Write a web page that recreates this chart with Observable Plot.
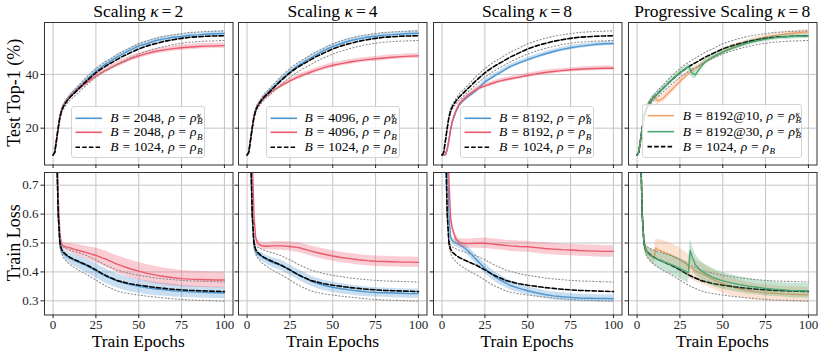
<!DOCTYPE html>
<html><head><meta charset="utf-8">
<script src="https://cdn.jsdelivr.net/npm/d3@7"></script>
<script src="https://cdn.jsdelivr.net/npm/@observablehq/plot@0.6"></script>
<style>
body{margin:0;background:#fff}
#chart{position:relative;width:822px;height:354px;overflow:hidden;font-family:"Liberation Serif","Times New Roman",serif;color:#000;background:#fff}
.legend{position:absolute;box-sizing:border-box;border:1px solid #d4d4d4;border-radius:3px;background:rgba(255,255,255,0.8);font-size:13.5px;padding-top:3.5px}
.legend .row{position:relative;white-space:nowrap}
.legend .row svg{position:absolute;top:0}
.legend .txt{position:absolute;top:0;word-spacing:0.5px}
.ss{display:inline-block;white-space:pre;font-size:8.9px;line-height:6px;font-style:italic;vertical-align:-2.6px;margin-left:0.5px}
.sb{font-size:0.66em;vertical-align:-0.35em;line-height:0;margin-left:0.5px}
</style></head>
<body><div id="chart"></div>
<script>
// ---------------- data ----------------
const epochs = [0,1,2,3,4,5,6,8,10,11,12,15,20,25,29,30,31,32,34,37,40,45,50,55,60,65,70,75,80,85,90,95,100];

// Test Top-1 (%) — baseline B=1024
const acc1024   = [10.0,11.0,15.5,20.0,24.0,26.5,28.0,30.0,31.6,32.2,32.8,34.7,37.8,40.6,42.4,42.8,43.2,43.6,44.3,45.4,46.5,48.0,49.5,50.6,51.5,52.3,52.9,53.4,53.8,54.0,54.2,54.3,54.4];
const acc1024Sd = [0,0.2,0.4,0.6,0.7,0.8,0.9,1.0,1.1,1.1,1.2,1.3,1.5,1.6,1.7,1.7,1.7,1.7,1.7,1.8,1.8,1.8,1.9,1.9,1.9,1.9,1.8,1.8,1.8,1.8,1.8,1.8,1.8];
// kappa = 2
const acc2048k   = [10.0,11.0,15.6,20.3,24.3,26.8,28.3,30.3,31.9,32.6,33.3,35.1,38.3,41.2,43.1,43.6,44.0,44.3,45.1,46.3,47.4,49.0,50.6,51.5,52.6,53.2,53.8,54.1,54.6,54.7,55.0,55.1,55.2];
const acc2048kSd = [0,0.2,0.3,0.4,0.5,0.5,0.6,0.6,0.7,0.7,0.7,0.8,0.8,0.9,0.9,0.9,0.9,0.9,1.0,1.0,1.0,1.0,1.0,1.0,1.0,1.0,0.9,0.9,0.9,0.9,0.9,0.9,0.9];
const acc2048    = [10.0,11.0,15.6,20.3,24.3,26.8,28.3,30.2,31.7,32.3,32.9,34.6,37.1,39.4,40.9,41.3,41.6,41.9,42.6,43.5,44.4,45.8,46.9,47.8,48.6,49.1,49.6,49.9,50.2,50.4,50.5,50.6,50.7];
const acc2048Sd  = [0,0.2,0.3,0.4,0.5,0.5,0.6,0.6,0.7,0.7,0.7,0.8,0.9,0.9,1.0,1.0,1.0,1.0,1.0,1.0,1.0,1.0,1.0,1.0,1.0,1.0,1.0,1.0,1.0,1.0,1.0,1.0,1.0];
// kappa = 4
const acc4096k   = [10.0,11.0,15.5,20.2,24.2,26.7,28.2,30.2,31.8,32.5,33.1,35.0,38.2,41.0,42.9,43.4,43.8,44.1,44.9,46.1,47.2,48.9,50.4,51.5,52.5,53.2,53.8,54.2,54.6,54.8,55.0,55.2,55.3];
const acc4096kSd = [0,0.2,0.3,0.4,0.5,0.5,0.6,0.6,0.7,0.7,0.7,0.8,0.8,0.8,0.9,0.9,0.9,0.9,0.9,0.9,0.9,0.9,0.9,0.9,0.9,0.9,0.9,0.9,0.9,0.9,0.9,0.9,0.9];
const acc4096    = [10.0,11.0,15.5,20.2,24.2,26.7,28.1,29.8,31.1,31.7,32.3,33.9,35.8,37.6,38.8,39.1,39.3,39.6,40.1,40.8,41.5,42.5,43.4,44.0,44.6,45.1,45.5,45.8,46.1,46.4,46.6,46.8,46.9];
const acc4096Sd  = [0,0.2,0.3,0.4,0.5,0.5,0.6,0.6,0.7,0.7,0.7,0.8,0.8,0.8,0.9,0.9,0.9,0.9,0.9,0.9,0.9,0.9,0.9,0.9,0.9,0.9,0.9,0.9,0.9,0.9,0.9,0.9,0.9];
// kappa = 8
const acc8192k   = [10.0,10.0,10.2,12.0,15.5,19.5,22.5,26.0,28.5,29.3,30.0,31.6,34.0,37.2,38.8,39.2,39.6,40.0,40.7,41.9,43.0,44.3,45.5,46.6,47.6,48.5,49.3,49.9,50.4,50.8,51.2,51.4,51.5];
const acc8192kSd = [0,0,0.2,0.4,0.5,0.6,0.6,0.7,0.7,0.7,0.7,0.7,0.8,0.8,0.8,0.8,0.8,0.8,0.8,0.8,0.8,0.8,0.8,0.8,0.8,0.8,0.8,0.8,0.8,0.8,0.8,0.8,0.8];
const acc8192    = [10.0,10.0,10.2,12.0,15.5,19.5,22.5,26.2,28.9,29.7,30.4,32.1,34.4,35.7,36.6,36.8,37.0,37.2,37.6,38.0,38.4,39.0,39.6,40.2,40.7,41.1,41.4,41.7,41.9,42.1,42.2,42.3,42.3];
const acc8192Sd  = [0,0,0.2,0.4,0.5,0.6,0.6,0.7,0.7,0.7,0.7,0.7,0.8,0.8,0.8,0.8,0.8,0.8,0.8,0.8,0.8,0.8,0.8,0.8,0.8,0.8,0.8,0.8,0.8,0.8,0.8,0.8,0.8];
// progressive kappa = 8
const acc8192at10   = [10.0,11.0,15.5,20.0,24.0,26.5,28.0,30.0,31.6,30.6,30.2,31.0,34.2,37.4,39.8,40.4,40.9,41.4,42.2,43.4,44.7,46.6,48.4,49.9,51.1,52.1,53.0,53.8,54.4,54.9,55.3,55.6,55.8];
const acc8192at10Sd = [0,0.2,0.4,0.6,0.7,0.8,0.9,1.0,1.1,1.3,1.5,1.5,1.4,1.2,1.1,1.0,1.0,1.0,1.0,0.9,0.9,0.9,0.9,0.9,0.9,0.9,0.9,0.9,0.9,0.9,0.9,0.9,0.9];
const acc8192at30   = [10.0,11.0,15.5,20.0,24.0,26.5,28.0,30.0,31.6,32.2,32.8,34.7,37.8,40.6,42.4,42.8,42.0,40.6,39.8,42.6,44.8,46.7,48.3,49.6,50.7,51.7,52.5,53.1,53.6,53.9,54.1,54.2,54.3];
const acc8192at30Sd = [0,0.2,0.4,0.6,0.7,0.8,0.9,1.0,1.0,1.0,1.0,1.0,1.0,1.0,1.0,1.0,1.5,1.8,1.5,1.2,1.0,0.9,0.9,0.9,0.9,0.9,0.9,0.9,0.9,0.9,0.9,0.9,0.9];

// Train Loss — baseline B=1024
const loss1024   = [1.6,1.2,0.85,0.6,0.5,0.478,0.468,0.458,0.450,0.447,0.444,0.436,0.423,0.407,0.393,0.390,0.387,0.384,0.379,0.371,0.366,0.359,0.354,0.350,0.346,0.343,0.340,0.338,0.336,0.335,0.334,0.333,0.332];
const loss1024Sd = [0,0,0.01,0.01,0.012,0.015,0.018,0.022,0.025,0.026,0.027,0.03,0.033,0.035,0.036,0.036,0.036,0.036,0.036,0.036,0.036,0.035,0.034,0.034,0.033,0.033,0.033,0.033,0.033,0.033,0.033,0.033,0.033];
const loss2048k   = [1.6,1.2,0.84,0.6,0.49,0.472,0.463,0.454,0.447,0.444,0.441,0.433,0.420,0.404,0.391,0.388,0.385,0.382,0.377,0.370,0.364,0.356,0.350,0.345,0.341,0.338,0.335,0.333,0.331,0.330,0.329,0.328,0.327];
const loss2048kSd = [0,0,0.008,0.01,0.01,0.012,0.014,0.016,0.018,0.019,0.02,0.022,0.024,0.025,0.025,0.025,0.025,0.025,0.025,0.025,0.025,0.025,0.024,0.024,0.023,0.022,0.022,0.021,0.02,0.02,0.02,0.02,0.02];
const loss2048    = [1.6,1.25,0.9,0.66,0.53,0.495,0.49,0.486,0.483,0.481,0.479,0.474,0.466,0.457,0.448,0.446,0.444,0.441,0.436,0.428,0.421,0.411,0.403,0.395,0.389,0.384,0.380,0.377,0.375,0.374,0.373,0.372,0.372];
const loss2048Sd  = [0,0,0.008,0.01,0.01,0.01,0.012,0.014,0.016,0.017,0.018,0.02,0.022,0.025,0.027,0.027,0.028,0.028,0.028,0.029,0.03,0.03,0.03,0.03,0.03,0.029,0.029,0.028,0.028,0.028,0.028,0.028,0.028];
const loss4096k   = [1.6,1.2,0.84,0.6,0.49,0.470,0.462,0.455,0.447,0.444,0.440,0.432,0.422,0.406,0.394,0.390,0.387,0.384,0.378,0.369,0.362,0.353,0.347,0.342,0.338,0.334,0.331,0.329,0.328,0.327,0.326,0.325,0.325];
const loss4096kSd = [0,0,0.008,0.01,0.01,0.012,0.013,0.014,0.015,0.015,0.016,0.017,0.018,0.018,0.018,0.018,0.018,0.018,0.018,0.018,0.018,0.018,0.018,0.018,0.017,0.017,0.017,0.016,0.016,0.016,0.016,0.016,0.016];
const loss4096    = [1.8,1.5,1.0,0.8,0.6,0.52,0.50,0.492,0.489,0.489,0.489,0.490,0.490,0.488,0.485,0.484,0.483,0.481,0.478,0.473,0.468,0.461,0.455,0.450,0.446,0.442,0.439,0.437,0.436,0.435,0.434,0.434,0.433];
const loss4096Sd  = [0,0,0.008,0.01,0.01,0.01,0.011,0.012,0.013,0.013,0.013,0.014,0.015,0.016,0.017,0.017,0.017,0.017,0.017,0.017,0.018,0.018,0.018,0.018,0.018,0.018,0.018,0.018,0.018,0.018,0.018,0.018,0.018];
const loss8192k   = [2.4,2.0,1.4,0.8,0.6,0.52,0.508,0.500,0.495,0.492,0.488,0.474,0.443,0.412,0.392,0.387,0.383,0.379,0.372,0.362,0.353,0.343,0.335,0.328,0.322,0.317,0.314,0.312,0.310,0.309,0.308,0.308,0.307];
const loss8192kSd = [0,0,0.008,0.01,0.01,0.01,0.011,0.012,0.013,0.013,0.014,0.015,0.016,0.017,0.017,0.017,0.017,0.017,0.017,0.016,0.016,0.015,0.015,0.014,0.014,0.014,0.014,0.013,0.013,0.013,0.013,0.013,0.013];
const loss8192    = [2.4,2.0,1.5,0.95,0.72,0.589,0.55,0.515,0.502,0.500,0.499,0.498,0.499,0.499,0.497,0.496,0.496,0.495,0.494,0.492,0.490,0.488,0.487,0.484,0.481,0.479,0.477,0.476,0.474,0.473,0.472,0.471,0.471];
const loss8192Sd  = [0,0,0.008,0.01,0.01,0.01,0.012,0.013,0.014,0.014,0.015,0.016,0.017,0.018,0.018,0.018,0.018,0.018,0.018,0.018,0.019,0.019,0.019,0.019,0.02,0.02,0.02,0.02,0.02,0.02,0.02,0.02,0.02];
const loss8192at10   = [1.6,1.2,0.85,0.6,0.5,0.478,0.468,0.458,0.450,0.484,0.478,0.470,0.458,0.443,0.426,0.420,0.416,0.411,0.404,0.396,0.387,0.372,0.359,0.349,0.341,0.335,0.331,0.328,0.326,0.324,0.323,0.322,0.321];
const loss8192at10Sd = [0,0,0.01,0.01,0.012,0.015,0.018,0.022,0.025,0.03,0.035,0.04,0.04,0.04,0.04,0.04,0.039,0.038,0.037,0.036,0.035,0.033,0.032,0.031,0.03,0.029,0.028,0.028,0.027,0.026,0.026,0.025,0.025];
const loss8192at30   = [1.6,1.2,0.85,0.6,0.5,0.478,0.466,0.456,0.449,0.446,0.443,0.436,0.425,0.412,0.400,0.397,0.474,0.455,0.425,0.405,0.394,0.379,0.369,0.362,0.356,0.351,0.347,0.343,0.340,0.338,0.336,0.335,0.334];
const loss8192at30Sd = [0,0,0.01,0.01,0.012,0.015,0.018,0.022,0.025,0.026,0.027,0.03,0.033,0.035,0.036,0.036,0.04,0.04,0.036,0.033,0.031,0.03,0.029,0.028,0.027,0.027,0.026,0.026,0.025,0.025,0.025,0.025,0.025];

// labels
const titlePrefix = ["Scaling", "Scaling", "Scaling", "Progressive Scaling"];
const kappaValues = ["2", "4", "8", "8"];
const legendBatch = [["2048","2048"],["4096","4096"],["8192","8192"],["8192@10","8192@30"]];
const baseBatch = "1024";
const xTicks = [0,25,50,75,100];
const accTicks = [20,40];
const lossTicks = [0.3,0.4,0.5,0.6,0.7];
const xLabel = "Train Epochs";
const yLabels = ["Test Top-1 (%)", "Train Loss"];

// ---------------- layout / style ----------------
const BLUE = "#4d96d0", RED = "#ea5a6c", ORANGE = "#f6a06a", GREEN = "#4aa771";
const colX = [44, 238.3, 432.8, 628];
const colW = 188.5;
const rowY = [21.5, 171.5];
const rowH = 142.5;
const FONT = "'Liberation Serif','Times New Roman',serif";

const panels = [
  {acc: [[acc2048k, acc2048kSd, BLUE, true], [acc2048, acc2048Sd, RED, false]],
   loss: [[loss2048k, loss2048kSd, BLUE, true], [loss2048, loss2048Sd, RED, false]]},
  {acc: [[acc4096k, acc4096kSd, BLUE, true], [acc4096, acc4096Sd, RED, false]],
   loss: [[loss4096k, loss4096kSd, BLUE, true], [loss4096, loss4096Sd, RED, false]]},
  {acc: [[acc8192k, acc8192kSd, BLUE, true], [acc8192, acc8192Sd, RED, false]],
   loss: [[loss8192k, loss8192kSd, BLUE, true], [loss8192, loss8192Sd, RED, false]]},
  {acc: [[acc8192at10, acc8192at10Sd, ORANGE, true], [acc8192at30, acc8192at30Sd, GREEN, true]],
   loss: [[loss8192at10, loss8192at10Sd, ORANGE, true], [loss8192at30, loss8192at30Sd, GREEN, true]], greenOnTop: true}
];

function rows(mean, sd) {
  return epochs.map((e, i) => ({e, m: mean[i], lo: mean[i] - sd[i], hi: mean[i] + sd[i]}));
}

const chart = document.getElementById("chart");

function seriesMarks(s) {
  const d = rows(s[0], s[1]);
  return [
    Plot.areaY(d, {x: "e", y1: "lo", y2: "hi", fill: s[2], fillOpacity: 0.3, clip: true}),
    Plot.lineY(d, {x: "e", y: "m", stroke: s[2], strokeWidth: 1.4, clip: true})
  ];
}
function baselineMarks(mean, sd) {
  const d = rows(mean, sd);
  return [
    Plot.lineY(d, {x: "e", y: "lo", stroke: "#8a8a8a", strokeWidth: 1.1, strokeDasharray: "1.1,2.3", clip: true}),
    Plot.lineY(d, {x: "e", y: "hi", stroke: "#8a8a8a", strokeWidth: 1.1, strokeDasharray: "1.1,2.3", clip: true}),
    Plot.lineY(d, {x: "e", y: "m", stroke: "#000", strokeWidth: 1.6, strokeDasharray: "4.5,2.2", clip: true})
  ];
}

for (let r = 0; r < 2; r++) {
  for (let c = 0; c < 4; c++) {
    const p = panels[c];
    const ser = r === 0 ? p.acc : p.loss;
    const base = r === 0 ? [acc1024, acc1024Sd] : [loss1024, loss1024Sd];
    const yTicks = r === 0 ? accTicks : lossTicks;
    const mL = c === 0 ? 44 : 6, mR = 5, mT = 5, mB = r === 1 ? 26 : 7;
    let dataMarks;
    if (p.greenOnTop) {
      dataMarks = [...seriesMarks(ser[0]), ...baselineMarks(base[0], base[1]), ...seriesMarks(ser[1])];
    } else {
      dataMarks = [...seriesMarks(ser[0]), ...seriesMarks(ser[1]), ...baselineMarks(base[0], base[1])];
    }
    const fmt = r === 0 ? (d => String(d)) : (d => d.toFixed(1));
    const svg = Plot.plot({
      width: colW + mL + mR,
      height: rowH + mT + mB,
      marginLeft: mL, marginRight: mR, marginTop: mT, marginBottom: mB,
      x: {domain: [-5, 105]},
      y: {domain: r === 0 ? [6.3, 59.3] : [0.251, 0.744]},
      style: {fontFamily: FONT, fontSize: "13px", background: "transparent", color: "#222", overflow: "visible"},
      marks: [
        Plot.gridX(xTicks, {stroke: "#c4c4c4", strokeOpacity: 1, strokeWidth: 1}),
        Plot.gridY(yTicks, {stroke: "#c4c4c4", strokeOpacity: 1, strokeWidth: 1}),
        ...dataMarks,
        Plot.frame({stroke: "#333", strokeWidth: 1}),
        Plot.axisX(xTicks, {anchor: "bottom", tickSize: 3.5, tickPadding: 1, label: null,
          tickFormat: r === 1 ? (d => String(d)) : (() => ""), fontSize: 13}),
        Plot.axisY(yTicks, {anchor: "left", tickSize: 3.5, tickPadding: 2.5, label: null,
          tickFormat: c === 0 ? fmt : (() => ""), fontSize: 13})
      ]
    });
    svg.style.position = "absolute";
    svg.style.left = (colX[c] - mL) + "px";
    svg.style.top = (rowY[r] - mT) + "px";
    svg.style.maxWidth = "none";
    chart.appendChild(svg);
  }
}

// ---------------- overlay text ----------------
const ov = d3.select(chart).append("svg")
  .attr("width", 822).attr("height", 354)
  .style("position", "absolute").style("left", "0px").style("top", "0px")
  .style("pointer-events", "none")
  .style("font-family", FONT);

for (let c = 0; c < 4; c++) {
  const t = ov.append("text")
    .attr("x", colX[c] + colW / 2).attr("y", 17)
    .attr("text-anchor", "middle").attr("font-size", 17.5);
  t.append("tspan").text(titlePrefix[c] + " ");
  t.append("tspan").attr("font-style", "italic").text("κ");
  t.append("tspan").attr("dx", 3).text("=");
  t.append("tspan").attr("dx", 3).text(kappaValues[c]);
  ov.append("text")
    .attr("x", colX[c] + colW / 2).attr("y", 346.5)
    .attr("text-anchor", "middle").attr("font-size", 17.5).text(xLabel);
}
for (let r = 0; r < 2; r++) {
  ov.append("text")
    .attr("transform", `translate(20,${rowY[r] + rowH / 2}) rotate(-90)`)
    .attr("text-anchor", "middle").attr("font-size", 18).text(yLabels[r]);
}

// ---------------- legends ----------------
function mathLabel(batch, kappa) {
  const rho = kappa
    ? `<i>ρ</i><span class="ss">κ\nB</span>`
    : `<i>ρ</i><span class="sb"><i>B</i></span>`;
  return `<i>B</i> = ${batch}, <i>ρ</i> = ${rho}`;
}
function lineSample(color, dashed, x0, x1, h) {
  const y = h / 2;
  const dash = dashed ? ` stroke-dasharray="4.5,2.2"` : "";
  return `<svg width="${x1 + 2}" height="${h}" style="left:0"><line x1="${x0}" x2="${x1}" y1="${y}" y2="${y}" stroke="${color}" stroke-width="1.6"${dash}/></svg>`;
}
for (let c = 0; c < 4; c++) {
  const p = panels[c];
  const wide = c === 3;
  const w = wide ? 160 : 134, h = wide ? 54.5 : 52;
  const rowHt = wide ? 15.3 : 14.6;
  const lx0 = wide ? 4.5 : 3.5, lx1 = wide ? 31 : 30, tx = wide ? 39.5 : 38;
  const div = document.createElement("div");
  div.className = "legend";
  div.style.left = (colX[c] + (colW - w) / 2) + "px";
  div.style.top = (rowY[0] + rowH - 5.7 - h) + "px";
  div.style.width = w + "px";
  div.style.height = h + "px";
  const entries = [
    [p.acc[0][2], false, mathLabel(legendBatch[c][0], p.acc[0][3])],
    [p.acc[1][2], false, mathLabel(legendBatch[c][1], p.acc[1][3])],
    ["#000", true, mathLabel(baseBatch, false)]
  ];
  let html = "";
  for (const [col, dashed, lab] of entries) {
    html += `<div class="row" style="height:${rowHt}px;line-height:${rowHt}px">${lineSample(col, dashed, lx0, lx1, rowHt)}<span class="txt" style="left:${tx}px">${lab}</span></div>`;
  }
  div.innerHTML = html;
  chart.appendChild(div);
}
</script>
</body></html>
